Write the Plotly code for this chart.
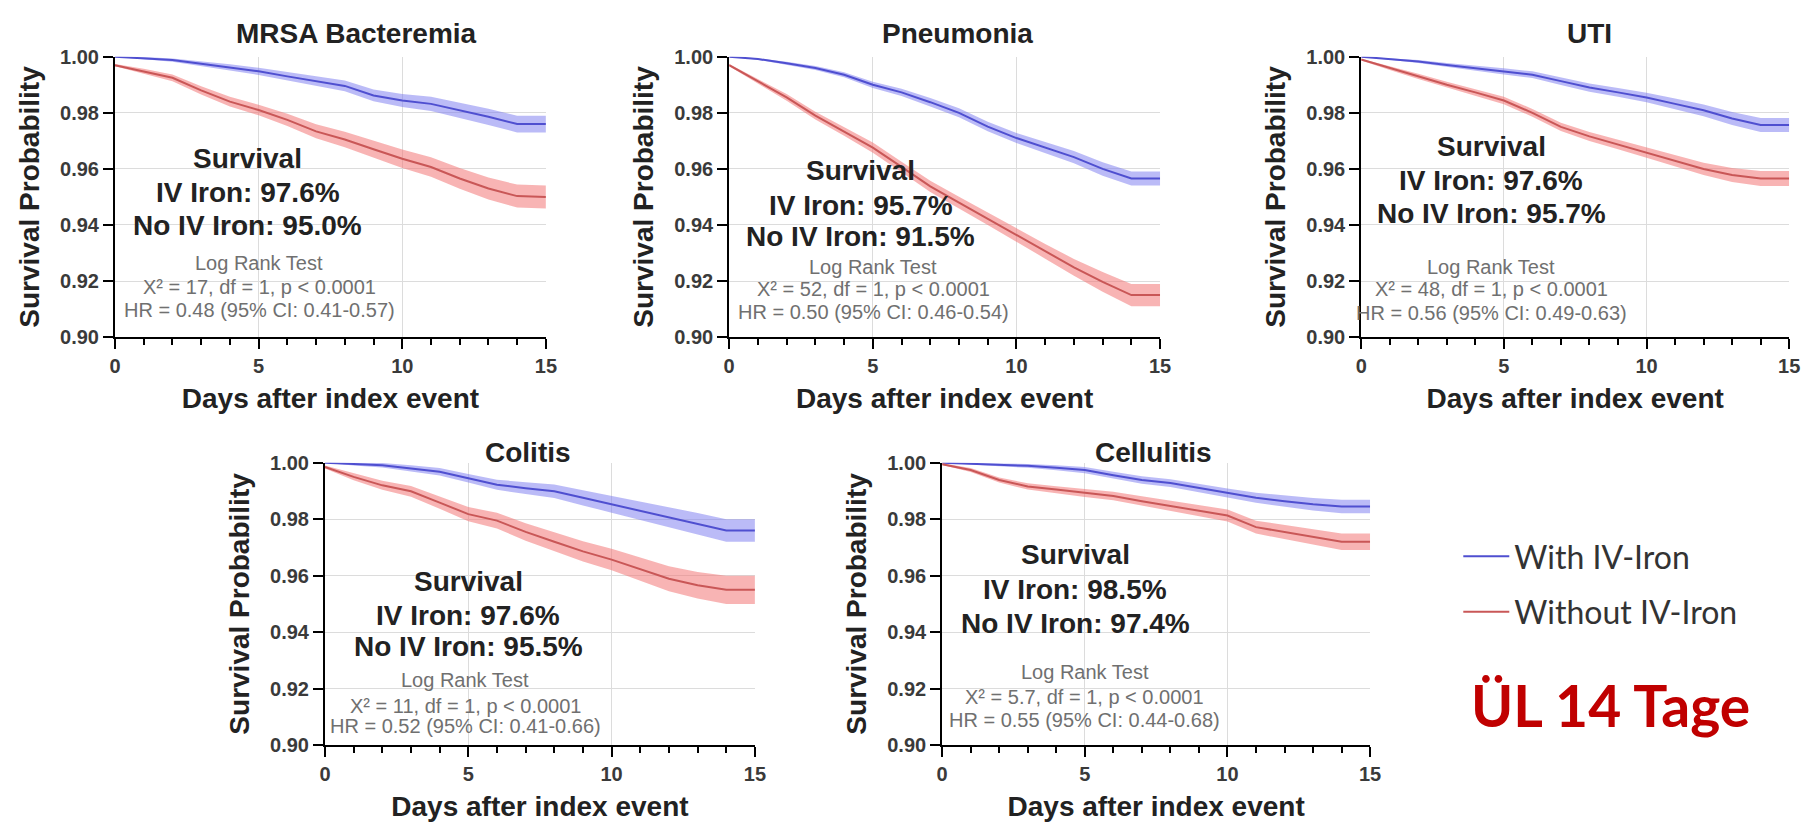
import plotly.graph_objects as go

W, H = 1818, 833
days = list(range(16))

titles = ["MRSA Bacteremia", "Pneumonia", "UTI", "Colitis", "Cellulitis"]

mrsa_iv = [1.000, 0.9995, 0.9988, 0.9975, 0.9962, 0.9948, 0.9930, 0.9913, 0.9896, 0.9862, 0.9844, 0.9832, 0.9810, 0.9786, 0.9760, 0.9760]
mrsa_no = [0.9970, 0.9948, 0.9925, 0.9880, 0.9840, 0.9810, 0.9775, 0.9734, 0.9705, 0.9670, 0.9636, 0.9607, 0.9566, 0.9530, 0.9503, 0.9500]
mrsa_iv_ci = [0.0000, 0.0004, 0.0006, 0.0009, 0.0011, 0.0013, 0.0015, 0.0017, 0.0019, 0.0021, 0.0023, 0.0025, 0.0027, 0.0029, 0.0030, 0.0030]
mrsa_no_ci = [0.0004, 0.0009, 0.0012, 0.0015, 0.0017, 0.0019, 0.0022, 0.0025, 0.0028, 0.0031, 0.0033, 0.0035, 0.0037, 0.0039, 0.0041, 0.0041]

pneu_iv = [1.000, 0.9992, 0.9977, 0.9960, 0.9936, 0.9900, 0.9873, 0.9838, 0.9800, 0.9751, 0.9710, 0.9676, 0.9642, 0.9600, 0.9566, 0.9566]
pneu_no = [0.9970, 0.9913, 0.9855, 0.9790, 0.9734, 0.9676, 0.9607, 0.9538, 0.9480, 0.9422, 0.9364, 0.9306, 0.9249, 0.9197, 0.9150, 0.9150]
pneu_iv_ci = [0.0000, 0.0003, 0.0005, 0.0007, 0.0009, 0.0011, 0.0013, 0.0015, 0.0016, 0.0017, 0.0018, 0.0020, 0.0022, 0.0024, 0.0025, 0.0025]
pneu_no_ci = [0.0004, 0.0009, 0.0012, 0.0014, 0.0016, 0.0018, 0.0019, 0.0020, 0.0021, 0.0022, 0.0023, 0.0026, 0.0030, 0.0035, 0.0040, 0.0040]

uti_iv = [1.000, 0.9992, 0.9983, 0.9971, 0.9960, 0.9948, 0.9936, 0.9913, 0.9890, 0.9873, 0.9855, 0.9832, 0.9809, 0.9780, 0.9757, 0.9757]
uti_no = [0.9990, 0.9960, 0.9930, 0.9900, 0.9873, 0.9844, 0.9800, 0.9750, 0.9716, 0.9687, 0.9658, 0.9630, 0.9600, 0.9578, 0.9566, 0.9566]
uti_iv_ci = [0.0000, 0.0003, 0.0005, 0.0007, 0.0009, 0.0011, 0.0012, 0.0014, 0.0015, 0.0016, 0.0017, 0.0019, 0.0021, 0.0023, 0.0025, 0.0025]
uti_no_ci = [0.0003, 0.0007, 0.0009, 0.0011, 0.0012, 0.0013, 0.0014, 0.0015, 0.0016, 0.0017, 0.0018, 0.0020, 0.0022, 0.0025, 0.0027, 0.0027]

col_iv = [1.000, 0.9995, 0.9991, 0.9980, 0.9968, 0.9945, 0.9922, 0.9910, 0.9899, 0.9876, 0.9853, 0.9830, 0.9807, 0.9784, 0.9760, 0.9760]
col_no = [0.9985, 0.9950, 0.9920, 0.9899, 0.9859, 0.9818, 0.9795, 0.9755, 0.9720, 0.9686, 0.9657, 0.9623, 0.9589, 0.9566, 0.9550, 0.9550]
col_iv_ci = [0.0000, 0.0005, 0.0008, 0.0011, 0.0013, 0.0015, 0.0018, 0.0021, 0.0024, 0.0027, 0.0030, 0.0033, 0.0036, 0.0038, 0.0040, 0.0040]
col_no_ci = [0.0005, 0.0012, 0.0016, 0.0019, 0.0022, 0.0025, 0.0028, 0.0031, 0.0034, 0.0036, 0.0038, 0.0041, 0.0044, 0.0047, 0.0050, 0.0050]

cel_iv = [1.000, 0.9996, 0.9993, 0.9989, 0.9982, 0.9974, 0.9956, 0.9939, 0.9928, 0.9910, 0.9893, 0.9876, 0.9864, 0.9853, 0.9845, 0.9845]
cel_no = [0.9995, 0.9974, 0.9939, 0.9916, 0.9905, 0.9893, 0.9882, 0.9864, 0.9847, 0.9830, 0.9813, 0.9772, 0.9755, 0.9738, 0.9720, 0.9720]
cel_iv_ci = [0.0000, 0.0003, 0.0005, 0.0007, 0.0009, 0.0011, 0.0012, 0.0013, 0.0014, 0.0015, 0.0016, 0.0018, 0.0020, 0.0022, 0.0024, 0.0024]
cel_no_ci = [0.0003, 0.0007, 0.0009, 0.0011, 0.0012, 0.0014, 0.0015, 0.0017, 0.0018, 0.0019, 0.0021, 0.0023, 0.0025, 0.0027, 0.0029, 0.0029]

surv_iv_text = ["97.6%", "95.7%", "97.6%", "97.6%", "98.5%"]
surv_no_text = ["95.0%", "91.5%", "95.7%", "95.5%", "97.4%"]
chi2_text = ["17", "52", "48", "11", "5.7"]
hr_text = ["0.48 (95% CI: 0.41-0.57)", "0.50 (95% CI: 0.46-0.54)", "0.56 (95% CI: 0.49-0.63)",
           "0.52 (95% CI: 0.41-0.66)", "0.55 (95% CI: 0.44-0.68)"]

series_iv = [mrsa_iv, pneu_iv, uti_iv, col_iv, cel_iv]
series_no = [mrsa_no, pneu_no, uti_no, col_no, cel_no]
ci_iv = [mrsa_iv_ci, pneu_iv_ci, uti_iv_ci, col_iv_ci, cel_iv_ci]
ci_no = [mrsa_no_ci, pneu_no_ci, uti_no_ci, col_no_ci, cel_no_ci]

legend_names = ["With IV-Iron", "Without IV-Iron"]

# layout geometry (pixels)
px_x = [(110, 545), (730, 1165), (1368, 1800), (322, 756), (945, 1377)]
px_y = [(47, 335), (47, 335), (47, 335), (464, 754), (464, 754)]
title_py = [23, 23, 23, 453, 453]
title_dx = [8.4, 7.95, 8.0, 7.1, 7.4]
bold_x = [4.62, 4.58, 4.55, 5.0, 4.67]
gray_x = [5.02, 5.02, 4.55, 4.9, 5.0]
bold_y = [(0.9636, 0.9515, 0.9399), (0.9595, 0.947, 0.936), (0.968, 0.956, 0.944),
          (0.958, 0.946, 0.935), (0.9675, 0.955, 0.943)]
gray_y = [(0.9266, 0.9179, 0.9098), (0.925, 0.917, 0.909), (0.925, 0.917, 0.9085),
          (0.923, 0.914, 0.9066), (0.926, 0.917, 0.909)]

BLUE = "#4f4fd0"
BLUE_BAND = "rgba(120,120,240,0.50)"
RED = "#c95757"
RED_BAND = "rgba(242,118,118,0.55)"
FONT = "Liberation Sans, Arial, sans-serif"

fig = go.Figure()
annotations = []

for i in range(5):
    xa = "x" if i == 0 else f"x{i+1}"
    ya = "y" if i == 0 else f"y{i+1}"
    for surv, ci, color, band, name in [
        (series_iv[i], ci_iv[i], BLUE, BLUE_BAND, legend_names[0]),
        (series_no[i], ci_no[i], RED, RED_BAND, legend_names[1]),
    ]:
        upper = [s + c for s, c in zip(surv, ci)]
        lower = [s - c for s, c in zip(surv, ci)]
        fig.add_trace(go.Scatter(
            x=days + days[::-1], y=upper + lower[::-1], xaxis=xa, yaxis=ya,
            fill="toself", fillcolor=band, line=dict(width=0), mode="lines",
            hoverinfo="skip", showlegend=False))
        fig.add_trace(go.Scatter(
            x=days, y=surv, xaxis=xa, yaxis=ya, mode="lines",
            line=dict(color=color, width=2), name=name,
            legendgroup=name, showlegend=(i == 0)))

    x0, x1 = px_x[i]
    y0, y1 = px_y[i]
    xdom = [x0 / W, x1 / W]
    ydom = [1 - y1 / H, 1 - y0 / H]
    axis_common = dict(
        showline=True, linecolor="black", linewidth=2, mirror=False,
        ticks="outside", ticklen=10, tickwidth=2, tickcolor="black",
        showgrid=True, gridcolor="#dcdcdc", gridwidth=1, zeroline=False,
        tickfont=dict(family=FONT, size=20, color="#3a3a3a", weight="bold"),
    )
    xkey = "xaxis" if i == 0 else f"xaxis{i+1}"
    ykey = "yaxis" if i == 0 else f"yaxis{i+1}"
    fig.layout[xkey] = dict(
        domain=xdom, anchor=ya, range=[0, 15], tickvals=[0, 5, 10, 15],
        minor=dict(tickvals=list(range(16)), ticks="outside", ticklen=6,
                   tickwidth=2, tickcolor="black", showgrid=False),
        title=dict(text="Days after index event", standoff=12,
                   font=dict(family=FONT, size=28, color="#222", weight="bold")),
        **axis_common)
    fig.layout[ykey] = dict(
        domain=ydom, anchor=xa, range=[0.90, 1.00],
        tickvals=[0.90, 0.92, 0.94, 0.96, 0.98, 1.00], tickformat=".2f",
        title=dict(text="Survival Probability", standoff=12,
                   font=dict(family=FONT, size=28, color="#222", weight="bold")),
        **axis_common)

    annotations.append(dict(
        text=f"<b>{titles[i]}</b>", xref=xa, yref="paper", x=title_dx[i],
        y=1 - title_py[i] / H, showarrow=False, xanchor="center", yanchor="middle",
        font=dict(family=FONT, size=28, color="#222")))
    bold_lines = ["Survival", f"IV Iron: {surv_iv_text[i]}", f"No IV Iron: {surv_no_text[i]}"]
    for t, yy in zip(bold_lines, bold_y[i]):
        annotations.append(dict(
            text=f"<b>{t}</b>", xref=xa, yref=ya, x=bold_x[i], y=yy, showarrow=False,
            xanchor="center", yanchor="middle",
            font=dict(family=FONT, size=28, color="#222")))
    gray_lines = ["Log Rank Test", f"X² = {chi2_text[i]}, df = 1, p &lt; 0.0001",
                  f"HR = {hr_text[i]}"]
    for t, yy in zip(gray_lines, gray_y[i]):
        annotations.append(dict(
            text=t, xref=xa, yref=ya, x=gray_x[i], y=yy, showarrow=False,
            xanchor="center", yanchor="middle",
            font=dict(family=FONT, size=20, color="#707070")))

annotations.append(dict(
    text="<b>ÜL 14 Tage</b>", xref="paper", yref="paper", x=1620 / W, y=1 - 713 / H,
    showarrow=False, xanchor="center", yanchor="middle",
    font=dict(family="Lato, sans-serif", size=57, color="#c00000")))

fig.update_layout(
    width=W, height=H, margin=dict(l=0, r=0, t=0, b=0),
    paper_bgcolor="white", plot_bgcolor="white",
    annotations=annotations,
    showlegend=True,
    legend=dict(x=1466 / W, y=1 - 532 / H, xanchor="left", yanchor="top",
                font=dict(family="Lato, sans-serif", size=32, color="#333"),
                bgcolor="rgba(0,0,0,0)", tracegroupgap=11, itemwidth=46),
)

fig.write_html("out.html")
